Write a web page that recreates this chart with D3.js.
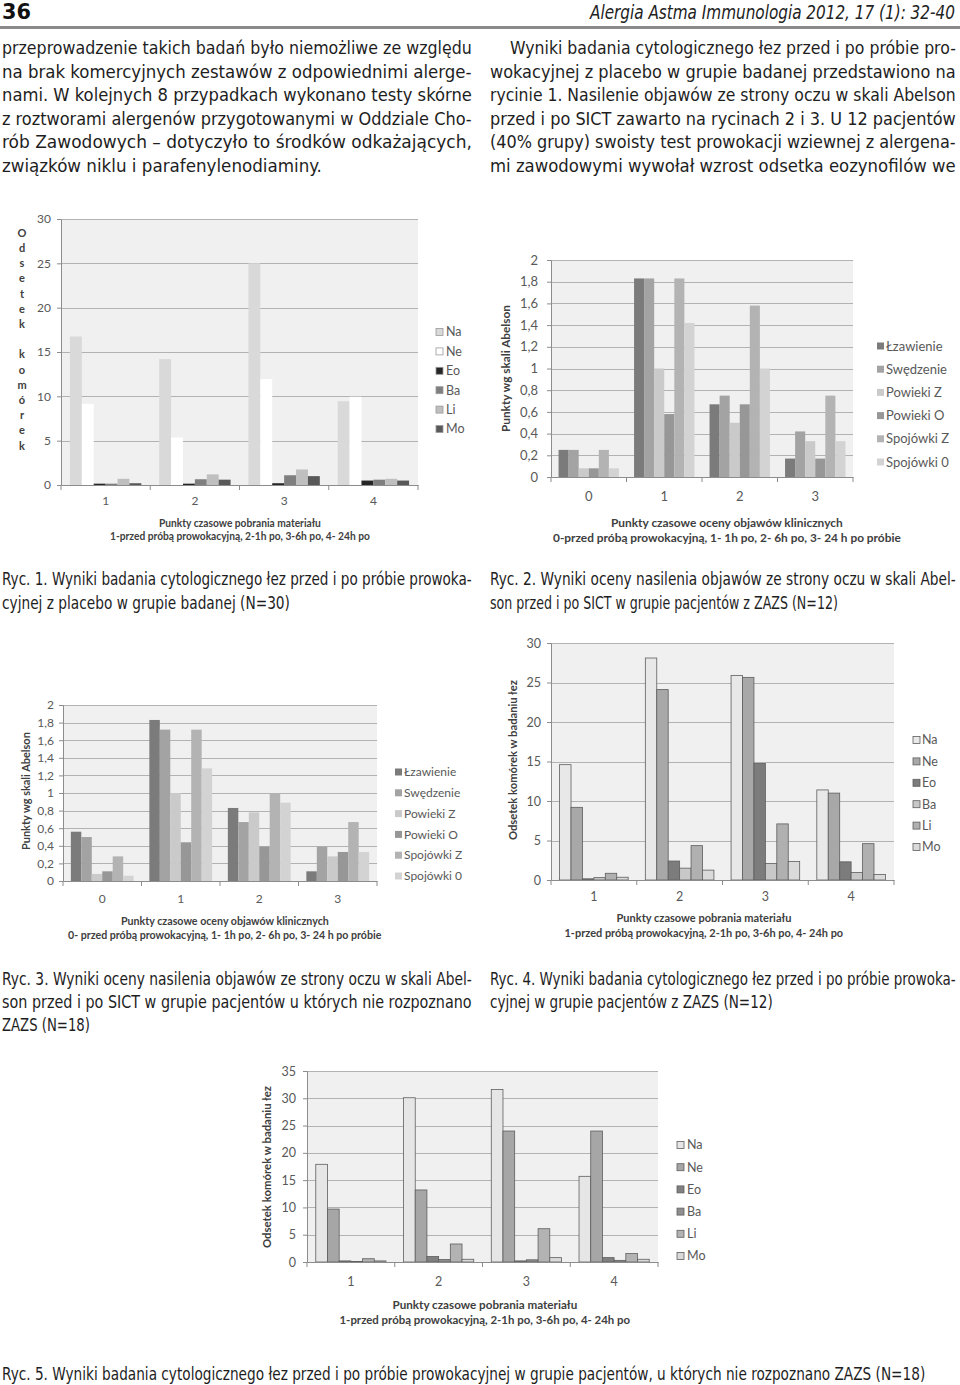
<!DOCTYPE html>
<html><head><meta charset="utf-8">
<script src="https://cdn.jsdelivr.net/npm/d3@7/dist/d3.min.js"></script>
<style>body{margin:0;background:#fff}svg{display:block}</style>
</head><body>
<svg id="page" width="960" height="1385"></svg>
<script>
// ---------- DATA ----------
const cellSeries = ["Na", "Ne", "Eo", "Ba", "Li", "Mo"];
const symptomSeries = ["Łzawienie", "Swędzenie", "Powieki Z", "Powieki O", "Spojówki Z", "Spojówki 0"];
const sampleTimes = ["1", "2", "3", "4"];
const symptomTimes = ["0", "1", "2", "3"];

const cellTicks30 = [0, 5, 10, 15, 20, 25, 30];
const cellTicks35 = [0, 5, 10, 15, 20, 25, 30, 35];
const abelsonTicks = [0, 0.2, 0.4, 0.6, 0.8, 1, 1.2, 1.4, 1.6, 1.8, 2];
const abelsonTickLabels = ["0", "0,2", "0,4", "0,6", "0,8", "1", "1,2", "1,4", "1,6", "1,8", "2"];

// rows = time points, columns = series (order as in series arrays)
const fig1Values = [
  [16.75, 9.15, 0.15, 0.15, 0.7, 0.2],
  [14.2, 5.35, 0.15, 0.65, 1.2, 0.6],
  [25.0, 11.95, 0.2, 1.1, 1.75, 1.0],
  [9.45, 9.95, 0.5, 0.6, 0.7, 0.5]
];
const fig2Values = [
  [0.25, 0.25, 0.08, 0.08, 0.25, 0.08],
  [1.83, 1.83, 1.0, 0.58, 1.83, 1.42],
  [0.67, 0.75, 0.5, 0.67, 1.58, 1.0],
  [0.17, 0.42, 0.33, 0.17, 0.75, 0.33]
];
const fig3Values = [
  [0.56, 0.5, 0.08, 0.11, 0.28, 0.06],
  [1.83, 1.72, 1.0, 0.44, 1.72, 1.28],
  [0.83, 0.67, 0.78, 0.39, 1.0, 0.89],
  [0.11, 0.39, 0.28, 0.33, 0.67, 0.33]
];
const fig4Values = [
  [14.6, 9.2, 0.15, 0.3, 0.85, 0.35],
  [28.1, 24.1, 2.4, 1.5, 4.35, 1.25],
  [25.9, 25.65, 14.75, 2.1, 7.1, 2.35],
  [11.4, 11.0, 2.3, 0.95, 4.6, 0.7]
];
const fig5Values = [
  [17.9, 9.7, 0.2, 0.1, 0.6, 0.2],
  [30.1, 13.2, 1.0, 0.45, 3.3, 0.5],
  [31.6, 24.0, 0.2, 0.4, 6.1, 0.8],
  [15.7, 24.0, 0.8, 0.3, 1.55, 0.5]
];

// ---------- TEXT ----------
const headerLeft = "36";
const headerRight = "Alergia Astma Immunologia 2012, 17 (1): 32-40";
const leftParagraph = [
  "przeprowadzenie takich badań było niemożliwe ze względu",
  "na brak komercyjnych zestawów z odpowiednimi alerge-",
  "nami. W kolejnych 8 przypadkach wykonano testy skórne",
  "z roztworami alergenów przygotowanymi w Oddziale Cho-",
  "rób Zawodowych – dotyczyło to środków odkażających,",
  "związków niklu i parafenylenodiaminy."
];
const rightParagraph = [
  "Wyniki badania cytologicznego łez przed i po próbie pro-",
  "wokacyjnej z placebo w grupie badanej przedstawiono na",
  "rycinie 1. Nasilenie objawów ze strony oczu w skali Abelson",
  "przed i po SICT zawarto na rycinach 2 i 3. U 12 pacjentów",
  "(40% grupy) swoisty test prowokacji wziewnej z alergena-",
  "mi zawodowymi wywołał wzrost odsetka eozynofilów we"
];
const caption1 = ["Ryc. 1. Wyniki badania cytologicznego łez przed i po próbie prowoka-", "cyjnej z placebo w grupie badanej (N=30)"];
const caption2 = ["Ryc. 2. Wyniki oceny nasilenia objawów ze strony oczu w skali Abel-", "son przed i po SICT w grupie pacjentów z ZAZS (N=12)"];
const caption3 = ["Ryc. 3. Wyniki oceny nasilenia objawów ze strony oczu w skali Abel-", "son przed i po SICT w grupie pacjentów u których nie rozpoznano", "ZAZS (N=18)"];
const caption4 = ["Ryc. 4. Wyniki badania cytologicznego łez przed i po próbie prowoka-", "cyjnej w grupie pacjentów z ZAZS (N=12)"];
const caption5 = ["Ryc. 5. Wyniki badania cytologicznego łez przed i po próbie prowokacyjnej w grupie pacjentów, u których nie rozpoznano ZAZS (N=18)"];

const sampleTitle = ["Punkty czasowe pobrania materiału", "1-przed próbą prowokacyjną, 2-1h po,  3-6h po, 4- 24h po"];
const symptomTitle2 = ["Punkty czasowe oceny objawów klinicznych", "0-przed próbą prowokacyjną, 1- 1h po, 2- 6h po, 3- 24 h po próbie"];
const symptomTitle3 = ["Punkty czasowe oceny objawów klinicznych", "0- przed próbą prowokacyjną, 1- 1h po, 2- 6h po, 3- 24 h po próbie"];
const yTitleFig1 = "Odsetek komórek";
const yTitleAbelson = "Punkty wg skali Abelson";
const yTitleCells = "Odsetek komórek w badaniu łez";

// ---------- DRAW ----------
const svg = d3.select("#page");
const bodyFont = "font-family:'DejaVu Sans Condensed','Liberation Sans Narrow','DejaVu Sans',sans-serif;font-size:17.5px;fill:#1e1e1e";
const chartFont = "Lato, 'Open Sans', 'Liberation Sans', sans-serif";

// place a text so that it spans exactly x0..x1 (horizontal scaling, like a condensed typeface)
function fitLine(str, x0, x1, y, style) {
  const t = svg.append("text").attr("x", 0).attr("y", 0).attr("style", style).text(str);
  const w = t.node().getComputedTextLength();
  const sx = (x1 - x0) / w;
  t.attr("transform", `translate(${x0},${y}) scale(${sx},1)`);
  return t;
}

// header
fitLine(headerLeft, 2, 31, 19, "font-family:'DejaVu Sans Condensed','DejaVu Sans',sans-serif;font-weight:bold;font-size:21px;fill:#111");
fitLine(headerRight, 590, 955, 19, "font-family:'DejaVu Sans Condensed','DejaVu Sans',sans-serif;font-style:italic;font-size:19.5px;fill:#222");
svg.append("rect").attr("x", 0).attr("y", 26).attr("width", 960).attr("height", 3).attr("fill", "#8a8a8a");

const paraBase = [54, 77.5, 101, 124.5, 148, 171.5];
leftParagraph.forEach((s, i) => fitLine(s, 2, i === 5 ? 322 : 472, paraBase[i], bodyFont));
rightParagraph.forEach((s, i) => fitLine(s, i === 0 ? 510 : 490, 956, paraBase[i], bodyFont));

// captions
fitLine(caption1[0], 2, 472, 585, bodyFont);
fitLine(caption1[1], 2, 290, 609, bodyFont);
fitLine(caption2[0], 490, 956, 585, bodyFont);
fitLine(caption2[1], 490, 838, 609, bodyFont);
fitLine(caption3[0], 2, 472, 985, bodyFont);
fitLine(caption3[1], 2, 472, 1008, bodyFont);
fitLine(caption3[2], 2, 90, 1031, bodyFont);
fitLine(caption4[0], 490, 956, 985, bodyFont);
fitLine(caption4[1], 490, 773, 1008, bodyFont);
fitLine(caption5[0], 2, 926, 1380, bodyFont);

function drawChart(cfg) {
  const g = svg.append("g");
  const x0 = d3.scaleBand().domain(cfg.categories).range([cfg.left, cfg.right]);
  const x1 = d3.scaleBand().domain(cfg.series).range([x0.bandwidth() * 0.1, x0.bandwidth() * 0.9]);
  const y = d3.scaleLinear().domain([0, cfg.ymax]).range([cfg.bottom, cfg.top]);

  g.append("rect").attr("x", cfg.left).attr("y", cfg.top).attr("width", cfg.right - cfg.left)
    .attr("height", cfg.bottom - cfg.top).attr("fill", "#f0f0f0");

  g.selectAll(".grid").data(cfg.ticks.filter(d => d > 0)).join("line")
    .attr("x1", cfg.left).attr("x2", cfg.right)
    .attr("y1", d => Math.round(y(d)) + 0.5).attr("y2", d => Math.round(y(d)) + 0.5)
    .attr("stroke", "#b2b2b2").attr("stroke-width", 1);

  cfg.categories.forEach((c, ci) => {
    g.selectAll(null).data(cfg.series).join("rect")
      .attr("x", s => x0(c) + x1(s))
      .attr("y", (s, si) => y(cfg.values[ci][si]))
      .attr("width", x1.bandwidth())
      .attr("height", (s, si) => cfg.bottom - y(cfg.values[ci][si]))
      .attr("fill", (s, si) => cfg.colors[si])
      .attr("stroke", cfg.barStroke || "none")
      .attr("stroke-width", 0.8);
  });

  const yAxis = d3.axisLeft(y).tickValues(cfg.ticks).tickSize(4).tickPadding(cfg.tickPad)
    .tickFormat((d, i) => cfg.tickLabels ? cfg.tickLabels[i] : d);
  const ya = g.append("g").attr("transform", `translate(${cfg.left},0)`).call(yAxis);
  ya.select(".domain").attr("stroke", "#8c8c8c");
  ya.selectAll(".tick line").attr("stroke", "#8c8c8c");
  ya.selectAll(".tick text").attr("fill", "#595959").style("font-family", chartFont).style("font-size", cfg.tickFont + "px");

  const xAxis = d3.axisBottom(x0).tickSize(0).tickPadding(cfg.catPad);
  const xa = g.append("g").attr("transform", `translate(0,${cfg.bottom})`).call(xAxis);
  xa.select(".domain").attr("stroke", "#8c8c8c");
  xa.selectAll(".tick text").attr("fill", "#595959").style("font-family", chartFont).style("font-size", cfg.tickFont + "px");
  const bounds = cfg.categories.map(c => x0(c)).concat([cfg.right]);
  g.selectAll(".sep").data(bounds).join("line")
    .attr("x1", d => d).attr("x2", d => d).attr("y1", cfg.bottom).attr("y2", cfg.bottom + 5)
    .attr("stroke", "#8c8c8c");

  cfg.series.forEach((s, i) => {
    const ly = cfg.legend.y0 + i * cfg.legend.dy;
    g.append("rect").attr("x", cfg.legend.sx).attr("y", ly - cfg.legend.size / 2)
      .attr("width", cfg.legend.size).attr("height", cfg.legend.size)
      .attr("fill", cfg.colors[i]).attr("stroke", cfg.legendStroke || "none").attr("stroke-width", 0.8);
    g.append("text").attr("x", cfg.legend.tx).attr("y", ly).attr("dy", "0.35em")
      .attr("fill", "#595959").style("font-family", chartFont).style("font-size", cfg.legend.font + "px").text(s);
  });

  cfg.xTitle.lines.forEach((ln, i) => {
    const w = cfg.xTitle.widths[i];
    const t = g.append("text").attr("x", 0).attr("y", 0)
      .attr("fill", "#404040").style("font-family", chartFont).style("font-weight", "bold")
      .style("font-size", cfg.xTitle.font + "px").text(ln);
    const nat = t.node().getComputedTextLength();
    t.attr("transform", `translate(${cfg.xTitle.cx - w / 2},${cfg.xTitle.ys[i]}) scale(${w / nat},1)`);
  });

  if (cfg.yTitle.stacked) {
    Array.from(cfg.yTitle.text).forEach((ch, i) => {
      if (ch === " ") return;
      g.append("text").attr("x", cfg.yTitle.cx).attr("y", cfg.yTitle.y0 + i * cfg.yTitle.dy)
        .attr("text-anchor", "middle").attr("dy", "0.35em")
        .attr("fill", "#404040").style("font-family", chartFont).style("font-weight", "bold")
        .style("font-size", cfg.yTitle.font + "px").text(ch);
    });
  } else {
    const L = cfg.yTitle.len;
    const t = g.append("text").attr("x", 0).attr("y", 0).attr("dy", "0.35em")
      .attr("fill", "#404040").style("font-family", chartFont).style("font-weight", "bold")
      .style("font-size", cfg.yTitle.font + "px").text(cfg.yTitle.text);
    const nat = t.node().getComputedTextLength();
    t.attr("transform", `translate(${cfg.yTitle.cx},${cfg.yTitle.cy + L / 2}) rotate(-90) scale(${L / nat},1)`);
  }
}

// Fig 1
drawChart({
  categories: sampleTimes, series: cellSeries, values: fig1Values,
  colors: ["#d9d9d9", "#ffffff", "#262626", "#7f7f7f", "#bfbfbf", "#595959"],
  legendStroke: "#9a9a9a",
  left: 61, right: 418, top: 219, bottom: 485, ymax: 30,
  ticks: cellTicks30, tickPad: 6, tickFont: 12, catPad: 11,
  legend: { sx: 436, tx: 446, y0: 332, dy: 19.4, size: 7, font: 12.5 },
  xTitle: { lines: sampleTitle, cx: 240, ys: [527, 540], widths: [162, 260], font: 11 },
  yTitle: { stacked: true, text: yTitleFig1, cx: 22, y0: 233, dy: 15.2, font: 11 }
});

// Fig 2
drawChart({
  categories: symptomTimes, series: symptomSeries, values: fig2Values,
  colors: ["#7b7b7b", "#a3a3a3", "#cacaca", "#979797", "#b3b3b3", "#d3d3d3"],
  left: 551, right: 853, top: 260, bottom: 477, ymax: 2,
  ticks: abelsonTicks, tickLabels: abelsonTickLabels, tickPad: 9, tickFont: 13, catPad: 15,
  legend: { sx: 877, tx: 886, y0: 346, dy: 23.2, size: 7, font: 13 },
  xTitle: { lines: symptomTitle2, cx: 727, ys: [527, 542], widths: [232, 348], font: 11.5 },
  yTitle: { stacked: false, text: yTitleAbelson, cx: 506, cy: 368.5, len: 127, font: 12 }
});

// Fig 3
drawChart({
  categories: symptomTimes, series: symptomSeries, values: fig3Values,
  colors: ["#7b7b7b", "#a3a3a3", "#cacaca", "#979797", "#b3b3b3", "#d3d3d3"],
  left: 63, right: 377, top: 705, bottom: 881, ymax: 2,
  ticks: abelsonTicks, tickLabels: abelsonTickLabels, tickPad: 5, tickFont: 12, catPad: 13,
  legend: { sx: 395, tx: 404, y0: 772, dy: 20.8, size: 7, font: 12 },
  xTitle: { lines: symptomTitle3, cx: 225, ys: [925, 939], widths: [208, 314], font: 11 },
  yTitle: { stacked: false, text: yTitleAbelson, cx: 26, cy: 791, len: 118, font: 11 }
});

// Fig 4
drawChart({
  categories: sampleTimes, series: cellSeries, values: fig4Values,
  colors: ["#e8e8e8", "#a8a8a8", "#7c7c7c", "#c8c8c8", "#b0b0b0", "#dadada"],
  barStroke: "#5e5e5e", legendStroke: "#5e5e5e",
  left: 551, right: 894, top: 643, bottom: 880, ymax: 30,
  ticks: cellTicks30, tickPad: 6, tickFont: 12.5, catPad: 12,
  legend: { sx: 913, tx: 922, y0: 740, dy: 21.4, size: 7, font: 12.5 },
  xTitle: { lines: sampleTitle, cx: 704, ys: [922, 937], widths: [175, 279], font: 11 },
  yTitle: { stacked: false, text: yTitleCells, cx: 513, cy: 760, len: 160, font: 12 }
});

// Fig 5
drawChart({
  categories: sampleTimes, series: cellSeries, values: fig5Values,
  colors: ["#e6e6e6", "#a6a6a6", "#808080", "#8e8e8e", "#b3b3b3", "#d9d9d9"],
  barStroke: "#5e5e5e", legendStroke: "#5e5e5e",
  left: 307, right: 658, top: 1071, bottom: 1262, ymax: 35,
  ticks: cellTicks35, tickPad: 7, tickFont: 12.5, catPad: 15,
  legend: { sx: 677, tx: 687, y0: 1145, dy: 22.2, size: 7, font: 12.5 },
  xTitle: { lines: sampleTitle, cx: 485, ys: [1309, 1324], widths: [185, 291], font: 11 },
  yTitle: { stacked: false, text: yTitleCells, cx: 267, cy: 1167, len: 162, font: 12 }
});
</script>
</body></html>
